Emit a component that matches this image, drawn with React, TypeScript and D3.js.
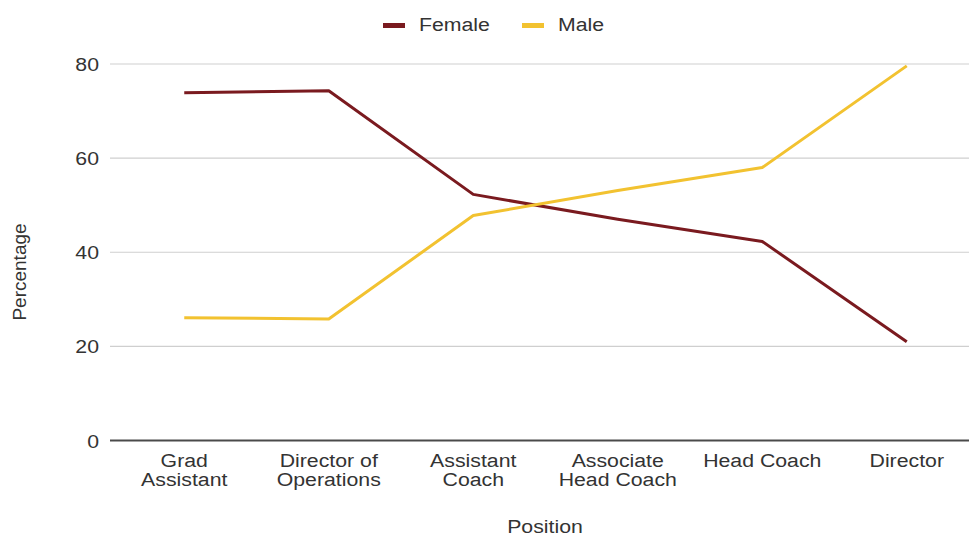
import React from "react";
import * as d3 from "d3";

// Share of each position held by women and men (percent)
const positions = [
  "Grad Assistant",
  "Director of Operations",
  "Assistant Coach",
  "Associate Head Coach",
  "Head Coach",
  "Director",
];
const positionLabelLines = [
  ["Grad", "Assistant"],
  ["Director of", "Operations"],
  ["Assistant", "Coach"],
  ["Associate", "Head Coach"],
  ["Head Coach"],
  ["Director"],
];
const femaleValues = [73.9, 74.3, 52.3, 47.0, 42.3, 21.0];
const maleValues = [26.1, 25.8, 47.8, 53.1, 58.0, 79.6];
const yTicks = [0, 20, 40, 60, 80];
const seriesNames = ["Female", "Male"];
const seriesColors = ["#7a1a1f", "#f2c230"];

const W = 969;
const H = 537;
const FONT = "'Liberation Sans', Arial, Helvetica, sans-serif";
const FS = 19;
const SX = 1.12; // slightly wide lettering

export default function App() {
  const x = d3.scaleBand<string>().domain(positions).range([112, 979]).padding(0);
  const y = d3.scaleLinear().domain([0, 80]).range([440.5, 64]);
  const cx = (p: string) => (x(p) ?? 0) + x.bandwidth() / 2;

  const line = d3
    .line<number>()
    .x((_, i) => cx(positions[i]))
    .y((v) => y(v));

  const series = [femaleValues, maleValues];
  const legendX = [383, 522];

  return (
    <svg
      width={W}
      height={H}
      style={{ position: "absolute", left: 0, top: 0, background: "#fff" }}
      fontFamily={FONT}
    >
      {/* legend */}
      {seriesNames.map((name, i) => (
        <g key={name}>
          <rect x={legendX[i]} y={23} width={22} height={5} fill={seriesColors[i]} />
          <text
            transform={`translate(${legendX[i] + 36},31) scale(${SX},1)`}
            fontSize={FS}
            fill="#333"
          >
            {name}
          </text>
        </g>
      ))}

      {/* gridlines and y tick labels */}
      {yTicks.map((t) => (
        <g key={t}>
          {t !== 0 && (
            <line x1={110} x2={W} y1={y(t)} y2={y(t)} stroke="#cfcfcf" strokeWidth={1.2} />
          )}
          <text
            transform={`translate(99,${y(t) + 7}) scale(${SX},1)`}
            textAnchor="end"
            fontSize={FS}
            fill="#333"
          >
            {t}
          </text>
        </g>
      ))}

      {/* baseline axis */}
      <line x1={110} x2={W} y1={y(0)} y2={y(0)} stroke="#4a4a4a" strokeWidth={2} />

      {/* x category labels */}
      {positions.map((p, i) => (
        <text
          key={p}
          transform={`translate(${cx(p)},467) scale(${SX},1)`}
          textAnchor="middle"
          fontSize={FS}
          fill="#333"
        >
          {positionLabelLines[i].map((ln, j) => (
            <tspan key={j} x={0} dy={j === 0 ? 0 : 19}>
              {ln}
            </tspan>
          ))}
        </text>
      ))}

      {/* axis titles */}
      <text
        transform={`translate(545,533) scale(${SX},1)`}
        textAnchor="middle"
        fontSize={FS}
        fill="#333"
      >
        Position
      </text>
      <text
        transform="translate(26,272) rotate(-90)"
        textAnchor="middle"
        fontSize={FS}
        fill="#333"
      >
        Percentage
      </text>

      {/* series lines */}
      {series.map((vals, i) => (
        <path
          key={seriesNames[i]}
          d={line(vals) ?? ""}
          fill="none"
          stroke={seriesColors[i]}
          strokeWidth={3}
          strokeLinejoin="round"
        />
      ))}
    </svg>
  );
}
